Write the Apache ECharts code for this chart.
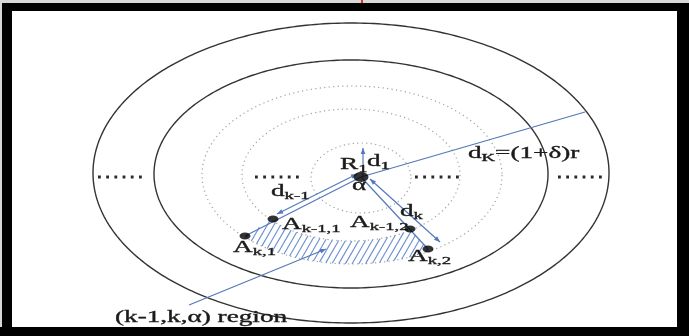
<!DOCTYPE html>
<html><head><meta charset="utf-8">
<script src="https://cdn.jsdelivr.net/npm/echarts@6/dist/echarts.min.js"></script>
<style>html,body{margin:0;padding:0;background:#fff}#c{width:689px;height:336px}</style>
</head><body><div id="c"></div><script>
// ---------------- data (diagram geometry, in picture units) ----------------
const ellipseNames = ['outer', 'inner', 'dotted1', 'dotted2', 'dotted3'];
const ellipseCx = [351, 351, 352, 351, 361];
const ellipseCy = [173, 174, 175, 175, 178];
const ellipseRx = [258, 197, 150, 109, 50];
const ellipseRy = [150, 114, 89, 66, 35];

const dashStartX = [98, 255, 415, 558];
const dashEndX = [145, 300, 463, 605];
const dashY = [177, 177, 177, 177];

const pointNames = ['α', 'A(k-1,1)', 'A(k,1)', 'A(k-1,2)', 'A(k,2)'];
const pointX = [361, 273, 245, 410, 428];
const pointY = [177, 219, 236, 229, 249];

const lineNames = ['dK', 'd1', 'ray1', 'ray2', 'dk-1', 'dk', 'region'];
const lineX1 = [361, 363, 361, 361, 357, 370, 189];
const lineY1 = [177, 176, 177, 177, 174, 179, 305];
const lineX2 = [585, 363, 245, 428, 277, 440, 326];
const lineY2 = [112, 148, 236, 249, 214, 242, 249];

const labelMain = ['R', 'd', 'α', 'd', 'd', 'A', 'A', 'A', 'A', 'd', '(k-1,k,α) region'];
const labelSub = ['1', '1', '', 'k-1', 'k', 'k-1,1', 'k-1,2', 'k,1', 'k,2', 'K', ''];
const labelTail = ['', '', '', '', '', '', '', '', '', '=(1+δ)r', ''];
const labelX = [340, 367, 352, 271, 400, 282, 350, 233, 408, 468, 115];
const labelY = [170, 167, 191, 197, 217, 230, 228, 253, 262, 159, 323];

// ---------------- styling ----------------
const BLUE = '#5478bd';
const HATCH = '#6a8ed0';
const FONT = '"Liberation Serif","Times New Roman","DejaVu Serif",serif';
const SX = 1.7, MAIN = 16, SUB = 11;
const ARROWS = { 'd1': ['end'], 'dk-1': ['start', 'end'], 'dk': ['start', 'end'], 'region': ['end'] };

const mctx = document.createElement('canvas').getContext('2d');
function tw(s, size) { mctx.font = size + 'px ' + FONT; return mctx.measureText(s).width; }

function renderEllipse(params, api) {
  const i = params.dataIndex;
  const cx = api.value(0), cy = api.value(1), rx = api.value(2), ry = api.value(3);
  const pts = [];
  for (let k = 0; k <= 360; k++) {
    const t = k / 360 * 2 * Math.PI;
    pts.push(api.coord([cx + rx * Math.cos(t), cy + ry * Math.sin(t)]));
  }
  const dotted = i >= 2;
  return {
    type: 'polyline', silent: true, shape: { points: pts },
    style: { fill: null, stroke: dotted ? '#a0a0a0' : '#333', lineWidth: dotted ? 1.2 : 1.4, lineDash: dotted ? [1.2, 3.3] : null }
  };
}

function renderDash(params, api) {
  const a = api.coord([api.value(0), api.value(2)]);
  const b = api.coord([api.value(1), api.value(2)]);
  return { type: 'line', silent: true, shape: { x1: a[0], y1: a[1], x2: b[0], y2: b[1] },
    style: { stroke: '#2a2a2a', lineWidth: 2.8, lineDash: [2.8, 5.4] } };
}

function arrowHead(tip, from) {
  const dx = tip[0] - from[0], dy = tip[1] - from[1];
  const L = Math.hypot(dx, dy) || 1;
  const ux = dx / L, uy = dy / L, nx = -uy, ny = ux;
  const len = 6, w = 2.4;
  return { type: 'polygon', silent: true, shape: { points: [
    tip, [tip[0] - ux * len + nx * w, tip[1] - uy * len + ny * w], [tip[0] - ux * len - nx * w, tip[1] - uy * len - ny * w]
  ] }, style: { fill: BLUE } };
}

function renderSeg(params, api) {
  const i = params.dataIndex;
  const a = api.coord([api.value(0), api.value(1)]);
  const b = api.coord([api.value(2), api.value(3)]);
  const kids = [{ type: 'line', silent: true, shape: { x1: a[0], y1: a[1], x2: b[0], y2: b[1] }, style: { stroke: BLUE, lineWidth: 1.2 } }];
  const heads = ARROWS[lineNames[i]] || [];
  if (heads.indexOf('end') >= 0) kids.push(arrowHead(b, a));
  if (heads.indexOf('start') >= 0) kids.push(arrowHead(a, b));
  return { type: 'group', children: kids };
}

function arcPoints(ei, x0, y0, x1, y1, n) {
  const cx = ellipseCx[ei], cy = ellipseCy[ei], rx = ellipseRx[ei], ry = ellipseRy[ei];
  const t0 = Math.atan2((y0 - cy) / ry, (x0 - cx) / rx);
  const t1 = Math.atan2((y1 - cy) / ry, (x1 - cx) / rx);
  const out = [];
  for (let k = 0; k <= n; k++) {
    const t = t0 + (t1 - t0) * k / n;
    out.push([cx + rx * Math.cos(t), cy + ry * Math.sin(t)]);
  }
  return out;
}

function renderHatch(params, api) {
  const bottom = arcPoints(2, pointX[2], pointY[2], pointX[4], pointY[4], 40);
  const top = arcPoints(3, pointX[3], pointY[3], pointX[1], pointY[1], 40);
  const poly = bottom.concat(top).map(p => api.coord(p));
  const d = [0.5, -0.866], nrm = [0.866, 0.5];
  const sv = poly.map(p => p[0] * nrm[0] + p[1] * nrm[1]);
  const smin = Math.min.apply(null, sv), smax = Math.max.apply(null, sv);
  const kids = [];
  const step = 5.8;
  for (let s = smin + step / 2; s < smax; s += step) {
    const us = [];
    for (let k = 0; k < poly.length; k++) {
      const a = poly[k], b = poly[(k + 1) % poly.length];
      const sa = sv[k], sb = sv[(k + 1) % poly.length];
      if ((sa - s) * (sb - s) < 0) {
        const t = (s - sa) / (sb - sa);
        const px = a[0] + t * (b[0] - a[0]), py = a[1] + t * (b[1] - a[1]);
        us.push([px * d[0] + py * d[1], px, py]);
      }
    }
    us.sort((p, q) => p[0] - q[0]);
    for (let k = 0; k + 1 < us.length; k += 2) {
      kids.push({ type: 'line', silent: true, shape: { x1: us[k][1], y1: us[k][2], x2: us[k + 1][1], y2: us[k + 1][2] },
        style: { stroke: HATCH, lineWidth: 1.1 } });
    }
  }
  return { type: 'group', children: kids };
}

function renderLabel(params, api) {
  const i = params.dataIndex;
  const p = api.coord([api.value(0), api.value(1)]);
  const mk = (txt, x, baseline, size) => ({
    type: 'text', silent: true, x: x, y: baseline - 0.33 * size, scaleX: SX,
    style: { text: txt, font: size + 'px ' + FONT, fill: '#1a1a1a', stroke: '#1a1a1a', lineWidth: 0.35,
      align: 'left', textAlign: 'left', verticalAlign: 'middle', textVerticalAlign: 'middle' }
  });
  const kids = [];
  let x = p[0];
  kids.push(mk(labelMain[i], x, p[1], MAIN)); x += tw(labelMain[i], MAIN) * SX;
  if (labelSub[i]) { kids.push(mk(labelSub[i], x, p[1] + 3, SUB)); x += tw(labelSub[i], SUB) * SX; }
  if (labelTail[i]) kids.push(mk(labelTail[i], x, p[1], MAIN));
  return { type: 'group', children: kids };
}

const chart = echarts.init(document.getElementById('c'), null, { renderer: 'canvas' });
chart.setOption({
  animation: false,
  backgroundColor: '#fff',
  grid: { left: 0, right: 0, top: 0, bottom: 0 },
  xAxis: { type: 'value', min: 0, max: 689, show: false },
  yAxis: { type: 'value', min: 0, max: 336, inverse: true, show: false },
  graphic: [
    { type: 'rect', silent: true, shape: { x: 0, y: 0, width: 689, height: 3 }, style: { fill: '#d8d8d8' } },
    { type: 'rect', silent: true, shape: { x: 0, y: 3, width: 689, height: 8 }, style: { fill: '#000' } },
    { type: 'rect', silent: true, shape: { x: 0, y: 3, width: 2, height: 333 }, style: { fill: '#d8d8d8' } },
    { type: 'rect', silent: true, shape: { x: 2, y: 3, width: 10, height: 333 }, style: { fill: '#000' } },
    { type: 'rect', silent: true, shape: { x: 677, y: 3, width: 12, height: 333 }, style: { fill: '#000' } },
    { type: 'rect', silent: true, shape: { x: 0, y: 327, width: 689, height: 9 }, style: { fill: '#000' } },
    { type: 'rect', silent: true, shape: { x: 361, y: 0, width: 2, height: 3 }, style: { fill: '#e03020' } }
  ],
  series: [
    { type: 'custom', clip: false, silent: true, renderItem: renderEllipse,
      data: ellipseCx.map((cx, i) => [cx, ellipseCy[i], ellipseRx[i], ellipseRy[i]]) },
    { type: 'custom', clip: false, silent: true, renderItem: renderDash,
      data: dashStartX.map((x, i) => [x, dashEndX[i], dashY[i]]) },
    { type: 'custom', clip: false, silent: true, renderItem: renderHatch, data: [[pointX[0], pointY[0]]] },
    { type: 'custom', clip: false, silent: true, renderItem: renderSeg,
      data: lineX1.map((x, i) => [x, lineY1[i], lineX2[i], lineY2[i]]) },
    { type: 'scatter', silent: true, symbol: 'circle',
      symbolSize: (v, p) => p.dataIndex === 0 ? [15, 10] : [11, 7],
      itemStyle: { color: '#000' },
      data: pointX.map((x, i) => ({ name: pointNames[i], value: [x, pointY[i]] })) },
    { type: 'custom', clip: false, silent: true, renderItem: renderLabel,
      data: labelX.map((x, i) => [x, labelY[i]]) }
  ]
});
</script></body></html>
